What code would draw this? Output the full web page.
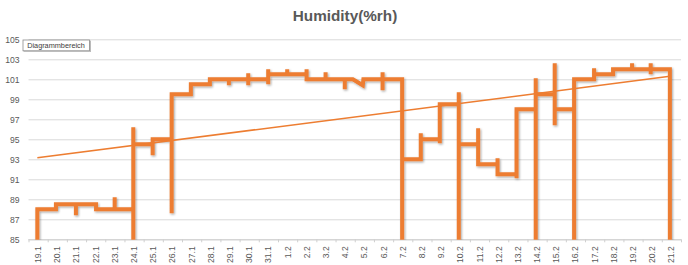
<!DOCTYPE html>
<html>
<head>
<meta charset="utf-8">
<script src="https://cdn.jsdelivr.net/npm/d3@7"></script>
<style>
  body { margin: 0; background: #fff; }
  svg { display: block; font-family: "Liberation Sans", Arial, sans-serif; }
</style>
</head>
<body>
<script>
const width = 688,
  height = 265;

// date labels, one per day band
const dayLabels = [
  "19.1", "20.1", "21.1", "22.1", "23.1", "24.1", "25.1", "26.1", "27.1",
  "28.1", "29.1", "30.1", "31.1", "1.2", "2.2", "3.2", "4.2", "5.2", "6.2",
  "7.2", "8.2", "9.2", "10.2", "11.2", "12.2", "13.2", "14.2", "15.2",
  "16.2", "17.2", "18.2", "19.2", "20.2", "21.2",
];

const yTicks = [85, 87, 89, 91, 93, 95, 97, 99, 101, 103, 105];

// readings: [days since 19.1 00:00, %rh]; 0 = sensor dropout
const readings = [
  [0.46, 0], [0.46, 88],
  [1.43, 88], [1.43, 88.5],
  [2.47, 88.5], [2.47, 87.4], [2.47, 88.5],
  [3.52, 88.5], [3.52, 88],
  [4.49, 88], [4.49, 89.2], [4.49, 88],
  [5.46, 88], [5.46, 0], [5.46, 96.2], [5.46, 94.5],
  [6.47, 94.5], [6.47, 93.4], [6.47, 95],
  [7.46, 95], [7.46, 87.6], [7.46, 99.5],
  [8.46, 99.5], [8.46, 100.5],
  [9.45, 100.5], [9.45, 101],
  [10.44, 101], [10.44, 100.4], [10.44, 101],
  [11.45, 101], [11.45, 101.6], [11.45, 100.4], [11.45, 101],
  [12.49, 101], [12.49, 100.5], [12.49, 102], [12.49, 101.5],
  [13.48, 101.5], [13.48, 102], [13.48, 101.5],
  [14.49, 101.5], [14.49, 102], [14.49, 101],
  [15.48, 101], [15.48, 101.7], [15.48, 101],
  [16.48, 101], [16.48, 100], [16.48, 101],
  [16.9, 101], [17.42, 100.4], [17.45, 101],
  [18.45, 101], [18.45, 101.7], [18.45, 99.9], [18.45, 101],
  [19.47, 101], [19.47, 0], [19.47, 93],
  [20.44, 93], [20.44, 95.6], [20.44, 95],
  [21.43, 95], [21.43, 94.6], [21.43, 98.5],
  [22.42, 98.5], [22.42, 99.7], [22.42, 0], [22.42, 94.5],
  [23.43, 94.5], [23.43, 96.1], [23.43, 92.5],
  [24.44, 92.5], [24.44, 93.1], [24.44, 91.5],
  [25.43, 91.5], [25.43, 91.1], [25.43, 98],
  [26.43, 98], [26.43, 0], [26.43, 101.1], [26.43, 99.5],
  [27.42, 99.5], [27.42, 102.6], [27.42, 96.4], [27.42, 98],
  [28.43, 98], [28.43, 0], [28.43, 101],
  [29.47, 101], [29.47, 102.1], [29.47, 101.5],
  [30.46, 101.5], [30.46, 102],
  [31.45, 102], [31.45, 102.6], [31.45, 102],
  [32.42, 102], [32.42, 102.6], [32.42, 101.5], [32.42, 102],
  [33.42, 102], [33.42, 0],
];

// linear trendline as Excel shows it, value at first and last reading
const trendValues = [93.15, 101.3];

const margin = { top: 39.3, left: 28.5, right: 7, bottom: 25.7 };
const orange = "#ED7D31",
  gray = "#595959",
  gridColor = "#D9D9D9";

const svg = d3
  .select("body")
  .append("svg")
  .attr("width", width)
  .attr("height", height);

const defs = svg.append("defs");
defs
  .append("clipPath")
  .attr("id", "plotClip")
  .append("rect")
  .attr("x", margin.left)
  .attr("y", margin.top - 2)
  .attr("width", width - margin.left - margin.right)
  .attr("height", height - margin.top - margin.bottom + 2.5);

const shadow = defs.append("filter").attr("id", "shadow")
  .attr("x", "-20%").attr("y", "-20%").attr("width", "140%").attr("height", "140%");
shadow
  .append("feDropShadow")
  .attr("dx", 1)
  .attr("dy", 1.2)
  .attr("stdDeviation", 0.9)
  .attr("flood-color", "#000")
  .attr("flood-opacity", 0.35);

const boxShadow = defs.append("filter").attr("id", "boxShadow");
boxShadow
  .append("feDropShadow")
  .attr("dx", 1)
  .attr("dy", 1)
  .attr("stdDeviation", 0.6)
  .attr("flood-color", "#000")
  .attr("flood-opacity", 0.3);

//////// scales ////////
const xScale = d3
  .scaleLinear()
  .domain([0, dayLabels.length])
  .range([margin.left, width - margin.right]);

const yScale = d3
  .scaleLinear()
  .domain([85, 105])
  .range([height - margin.bottom, margin.top]);

//////// title ////////
svg
  .append("text")
  .attr("x", width / 2 + 1)
  .attr("y", 20.5)
  .attr("text-anchor", "middle")
  .attr("font-weight", "bold")
  .attr("font-size", 15.3)
  .attr("fill", gray)
  .text("Humidity(%rh)");

//////// gridlines + y labels ////////
const yAxis = d3
  .axisLeft(yScale)
  .tickValues(yTicks)
  .tickSize(-(width - margin.left - margin.right))
  .tickPadding(9);

svg
  .append("g")
  .attr("transform", `translate(${margin.left},0)`)
  .call(yAxis)
  .call((g) => g.select(".domain").remove())
  .call((g) => g.selectAll("line").attr("stroke", gridColor))
  .call((g) =>
    g
      .selectAll("text")
      .attr("fill", gray)
      .attr("font-size", 8.6)
      .attr("font-family", "Liberation Sans, Arial, sans-serif")
  );

//////// x axis ////////
const xAxis = d3
  .axisBottom(xScale)
  .tickValues(d3.range(0, dayLabels.length + 1))
  .tickSize(3)
  .tickFormat("");

svg
  .append("g")
  .attr("transform", `translate(0,${yScale(85)})`)
  .call(xAxis)
  .call((g) => g.select(".domain").attr("stroke", "#CFCFCF").attr("d", `M${margin.left},0.5H${width - margin.right}`))
  .call((g) => g.selectAll("line").attr("stroke", "#CFCFCF"));

svg
  .append("g")
  .selectAll("text")
  .data(dayLabels)
  .enter()
  .append("text")
  .attr("transform", (d, i) => `translate(${xScale(i + 0.5)},${yScale(85) + 7}) rotate(-90)`)
  .attr("text-anchor", "end")
  .attr("dy", "0.35em")
  .attr("font-size", 8.6)
  .attr("fill", gray)
  .text((d) => d);

//////// lines ////////
const plot = svg.append("g").attr("clip-path", "url(#plotClip)");

const line = d3
  .line()
  .x((d) => xScale(d[0]))
  .y((d) => yScale(d[1]));

plot
  .append("path")
  .datum(readings)
  .attr("d", line)
  .attr("fill", "none")
  .attr("stroke", orange)
  .attr("stroke-width", 4)
  .attr("stroke-linejoin", "miter")
  .attr("filter", "url(#shadow)");

const firstDay = readings[0][0],
  lastDay = readings[readings.length - 1][0];

plot
  .append("path")
  .datum([[firstDay, trendValues[0]], [lastDay, trendValues[1]]])
  .attr("d", line)
  .attr("fill", "none")
  .attr("stroke", orange)
  .attr("stroke-width", 1.5);

//////// "Diagrammbereich" hover label ////////
const tip = svg.append("g").attr("transform", "translate(23,40)");
tip
  .append("rect")
  .attr("width", 66.5)
  .attr("height", 10.8)
  .attr("fill", "#fff")
  .attr("stroke", "#8C8C8C")
  .attr("stroke-width", 0.8)
  .attr("filter", "url(#boxShadow)");
tip
  .append("text")
  .attr("x", 4.2)
  .attr("y", 8)
  .attr("font-size", 7.3)
  .attr("fill", "#3C3C3C")
  .text("Diagrammbereich");
</script>
</body>
</html>
